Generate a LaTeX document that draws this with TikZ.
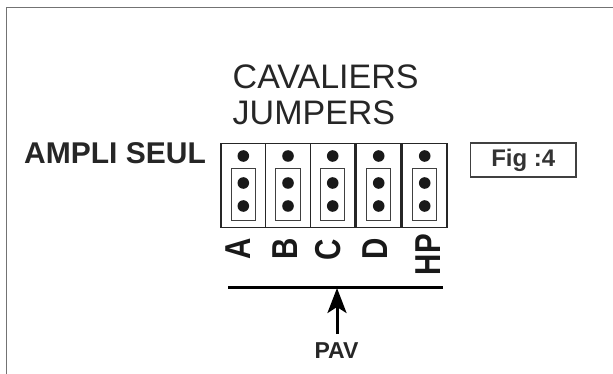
\documentclass[tikz,border=0pt]{standalone}
\usepackage{fontspec}
\setmainfont{Liberation Sans}
\usetikzlibrary{arrows.meta}
\tikzset{
 outerbox/.style={draw=black!85,line width=1.2pt,minimum width=44.5pt,minimum height=84pt,inner sep=0pt},
 innerbox/.style={draw=black!75,line width=1pt,minimum width=24.5pt,minimum height=52pt,inner sep=0pt},
 pin/.style={circle,fill=black!90,minimum size=11.6pt,inner sep=0pt},
 vlabel/.style={font=\bfseries\fontsize{36}{36}\selectfont,rotate=90,xscale=0.82,text=black!90,inner sep=0pt},
 txt/.style={inner sep=0pt,text=black!85},
}
\begin{document}
\begin{tikzpicture}[x=1pt,y=-1pt]
\useasboundingbox (0,0) rectangle (613,374);
\coordinate (fa) at (6.3,374);
\coordinate (fb) at (6.3,7.3);
\coordinate (fc) at (613,7.3);
\draw[draw=black!55,line width=1.3pt] (fa) -- (fb) -- (fc);
\node[txt,anchor=base west,font=\fontsize{34}{34}\selectfont] (cav) at (232.5,88.5) {CAVALIERS};
\node[txt,anchor=base west,font=\fontsize{34}{34}\selectfont] (jum) at (232.5,125) {JUMPERS};
\node[txt,anchor=base west,font=\bfseries\fontsize{30}{30}\selectfont] (ampli) at (24,163.5) {AMPLI SEUL};
\foreach \n/\x in {a/243.3,b/288,c/332.7,d/378.7,e/424.7}{
 \node[outerbox] (o\n) at (\x,185.3) {};
 \node[innerbox] (i\n) at (\x,194.3) {};
 \node[pin] (p\n1) at (\x,156) {};
 \node[pin] (p\n2) at (\x,183) {};
 \node[pin] (p\n3) at (\x,206) {};
}
\node[vlabel] (la) at (238,248.7) {A};
\node[vlabel] (lb) at (285,249) {B};
\node[vlabel] (lc) at (328.5,250) {C};
\node[vlabel] (ld) at (375,249) {D};
\node[vlabel] (lhp) at (428.5,254.5) {HP};
\coordinate (bl) at (228,287.7);
\coordinate (br) at (442.7,287.7);
\draw[line width=3pt,black] (bl) -- (br);
\node[txt,font=\bfseries\fontsize{23}{23}\selectfont] (pav) at (336.5,351) {PAV};
\coordinate (tip) at (337,288);
\draw[line width=3pt,black,-{Stealth[length=25pt,width=19pt,inset=6pt]}] (337,334) -- (tip);
\node[draw=black!75,line width=1.2pt,minimum width=105.3pt,minimum height=34pt,inner sep=0pt,font=\bfseries\fontsize{24}{24}\selectfont,text=black!80] (fig) at (523.3,160) {Fig :4};
\end{tikzpicture}
\end{document}
